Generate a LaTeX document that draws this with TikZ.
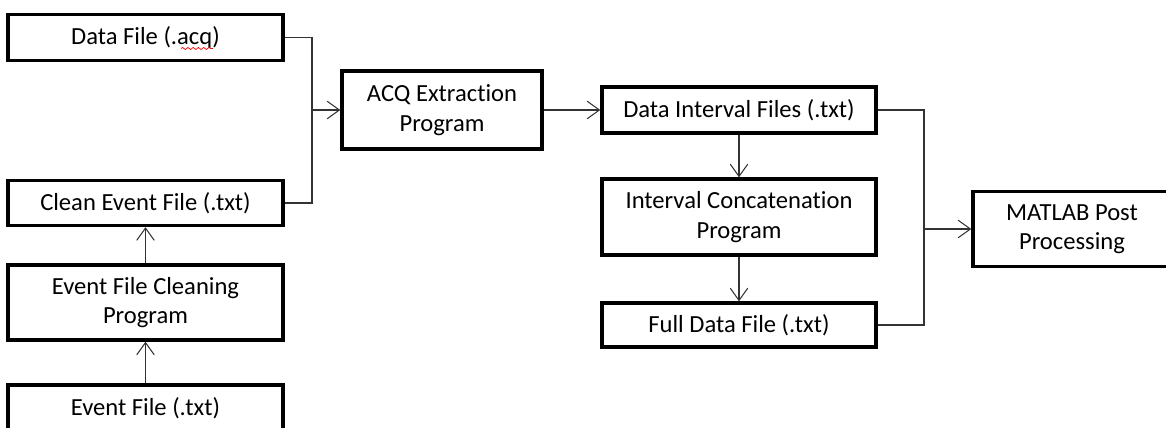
\documentclass[tikz,border=0pt]{standalone}
\usepackage{fontspec}
\setmainfont[Ligatures={NoCommon,NoRare}]{Carlito}
\usetikzlibrary{arrows.meta,decorations.pathmorphing}

\tikzset{
    box/.style={draw, line width=1.9pt, align=center, inner sep=2pt,
        font=\fontsize{14}{16.8}\selectfont},
    link/.style={draw=black!80, line width=0.6pt},
    arr/.style={link, -{Straight Barb[length=7pt,width=10pt]}}
}

\begin{document}
\begin{tikzpicture}[x=0.02cm, y=-0.02cm]
    \clip (0,0) rectangle (1166,428);

    % Input side
    \node[box, minimum width=275*0.02cm, minimum height=46*0.02cm] (datafile) at (145.5,37.5) {Data File (.acq)};
    \node[box, minimum width=275*0.02cm, minimum height=45*0.02cm] (cleanevent) at (145.5,203) {Clean Event File (.txt)};
    \node[box, minimum width=275*0.02cm, minimum height=75*0.02cm] (cleaning) at (145.5,302.5) {Event File Cleaning\\Program};
    \node[box, minimum width=275*0.02cm, minimum height=46*0.02cm] (eventfile) at (145.5,408) {Event File (.txt)};

    % Spell check underline
    \draw[red, line width=0.4pt, decorate, decoration={snake, amplitude=0.6pt, segment length=3pt}] (181,48.5) -- (213,48.5);

    % Extraction
    \node[box, minimum width=200*0.02cm, minimum height=78*0.02cm] (acq) at (442,110) {ACQ Extraction\\Program};

    % Interval files
    \node[box, minimum width=274*0.02cm, minimum height=46*0.02cm] (intervals) at (739,110) {Data Interval Files (.txt)};
    \node[box, minimum width=274*0.02cm, minimum height=76*0.02cm] (concat) at (739,217) {Interval Concatenation\\Program};
    \node[box, minimum width=274*0.02cm, minimum height=44*0.02cm] (fulldata) at (739,325) {Full Data File (.txt)};

    % Post processing
    \node[box, minimum width=198*0.02cm, minimum height=75*0.02cm] (matlab) at (1072,229) {MATLAB Post\\Processing};

    % Connectors
    \coordinate (joinA) at (312,110);
    \coordinate (joinB) at (924,229);

    \draw[arr] (eventfile) -- (cleaning);
    \draw[arr] (cleaning) -- (cleanevent);
    \draw[link] (datafile.east) -| (joinA);
    \draw[link] (cleanevent.east) -| (joinA);
    \draw[arr] (joinA) -- (acq.west);
    \draw[arr] (acq.east) -- (intervals.west);
    \draw[arr] (intervals) -- (concat);
    \draw[arr] (concat) -- (fulldata);
    \draw[link] (intervals.east) -| (joinB);
    \draw[link] (fulldata.east) -| (joinB);
    \draw[arr] (joinB) -- (matlab.west);

\end{tikzpicture}
\end{document}
